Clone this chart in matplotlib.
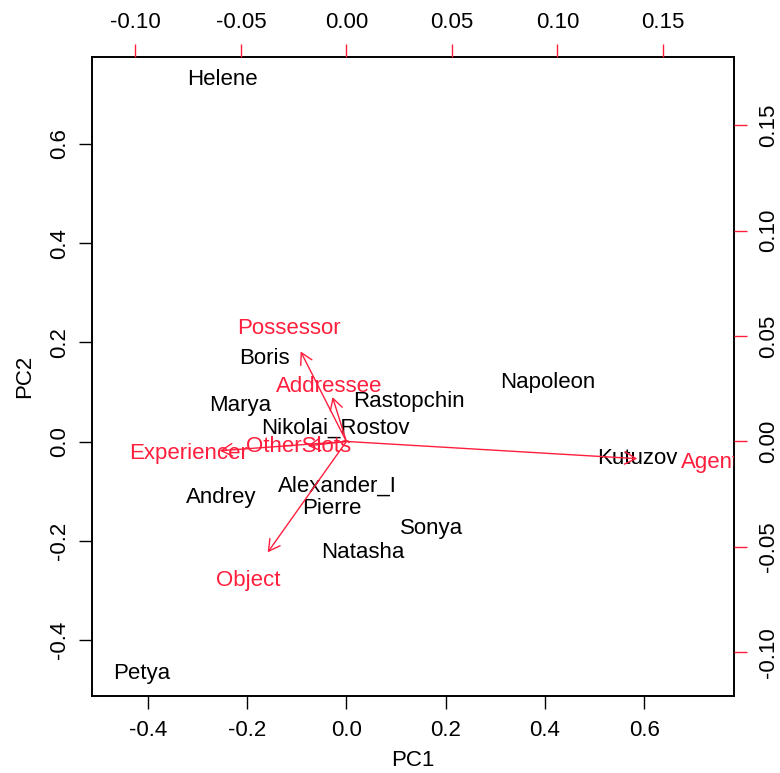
import matplotlib
matplotlib.use("Agg")
import matplotlib.pyplot as plt

plt.rcParams['font.family'] = ['Liberation Sans', 'DejaVu Sans']

# Observations (PC scores, primary axes)
names = ["Helene", "Napoleon", "Boris", "Marya", "Rastopchin", "Nikolai_Rostov",
         "Kutuzov", "Andrey", "Alexander_I", "Pierre", "Sonya", "Natasha", "Petya"]
pc1 = [-0.250, 0.406, -0.164, -0.214, 0.126, -0.023,
       0.587, -0.252, -0.017, -0.029, 0.171, 0.034, -0.412]
pc2 = [0.729, 0.118, 0.168, 0.072, 0.080, 0.027,
       -0.035, -0.112, -0.090, -0.136, -0.176, -0.223, -0.468]

# Variables (loadings, secondary axes); arrows drawn to 0.8 * loading
vars_ = ["Agent", "Experiencer", "Possessor", "Addressee", "OtherSlots", "Object"]
load1 = [0.1723, -0.0750, -0.0271, -0.0082, -0.0229, -0.0466]
load2 = [-0.0102, -0.0055, 0.0534, 0.0263, -0.0026, -0.0658]

xticks = [-0.4, -0.2, 0.0, 0.2, 0.4, 0.6]
yticks = [-0.4, -0.2, 0.0, 0.2, 0.4, 0.6]
sxticks = [-0.10, -0.05, 0.00, 0.05, 0.10, 0.15]
syticks = [-0.10, -0.05, 0.00, 0.05, 0.10, 0.15]

RED = '#ff1f3d'
FS = 16

fig = plt.figure(figsize=(7.8, 7.73), dpi=100)
pos = [91.7 / 780, 1 - 696 / 773, (734 - 91.7) / 780, (696 - 56.7) / 773]
ax = fig.add_axes(pos)
ax.set_xlim(-0.5128, 0.7809)
ax.set_ylim(-0.5131, 0.7758)
for n, x, y in zip(names, pc1, pc2):
    ax.text(x, y, n, ha='center', va='center', fontsize=FS, color='black')
ax.set_xticks(xticks)
ax.set_xticklabels([f"{t:.1f}" for t in xticks])
ax.set_yticks(yticks)
ax.set_yticklabels([f"{t:.1f}" for t in yticks], rotation=90, va='center')
ax.tick_params(axis='x', direction='out', length=9.5, width=1.0, labelsize=FS, pad=8)
ax.tick_params(axis='y', direction='out', length=9.5, width=1.0, labelsize=FS, pad=6)
ax.set_xlabel("PC1", fontsize=FS, labelpad=6)
ax.set_ylabel("PC2", fontsize=FS, labelpad=10)
for s in ax.spines.values():
    s.set_linewidth(1.4)

ax2 = fig.add_axes(pos, frameon=False)
ax2.set_xlim(-0.1207, 0.1837)
ax2.set_ylim(-0.1208, 0.1826)
ax2.xaxis.set_ticks_position('top')
ax2.xaxis.set_label_position('top')
ax2.yaxis.set_ticks_position('right')
ax2.yaxis.set_label_position('right')
ax2.set_xticks(sxticks)
ax2.set_xticklabels([f"{t:.2f}" for t in sxticks])
ax2.set_yticks(syticks)
ax2.set_yticklabels([f"{t:.2f}" for t in syticks], rotation=90, va='center')
ax2.tick_params(axis='x', direction='out', length=9.5, width=1.0, labelsize=FS, pad=7.5,
                color=RED, labelcolor='black')
ax2.tick_params(axis='y', direction='out', length=9.5, width=1.0, labelsize=FS, pad=8,
                color=RED, labelcolor='black')
ax2.patch.set_visible(False)
for v, x, y in zip(vars_, load1, load2):
    ax2.annotate('', xy=(0.8 * x, 0.8 * y), xytext=(0, 0),
                 arrowprops=dict(arrowstyle='->,head_length=0.8,head_width=0.45',
                                 color=RED, lw=1.0, mutation_scale=10,
                                 shrinkA=0, shrinkB=0))
    ax2.text(x, y, v, ha='center', va='center', fontsize=FS, color=RED,
             clip_on=True)

fig.savefig("out.png", dpi=100)
